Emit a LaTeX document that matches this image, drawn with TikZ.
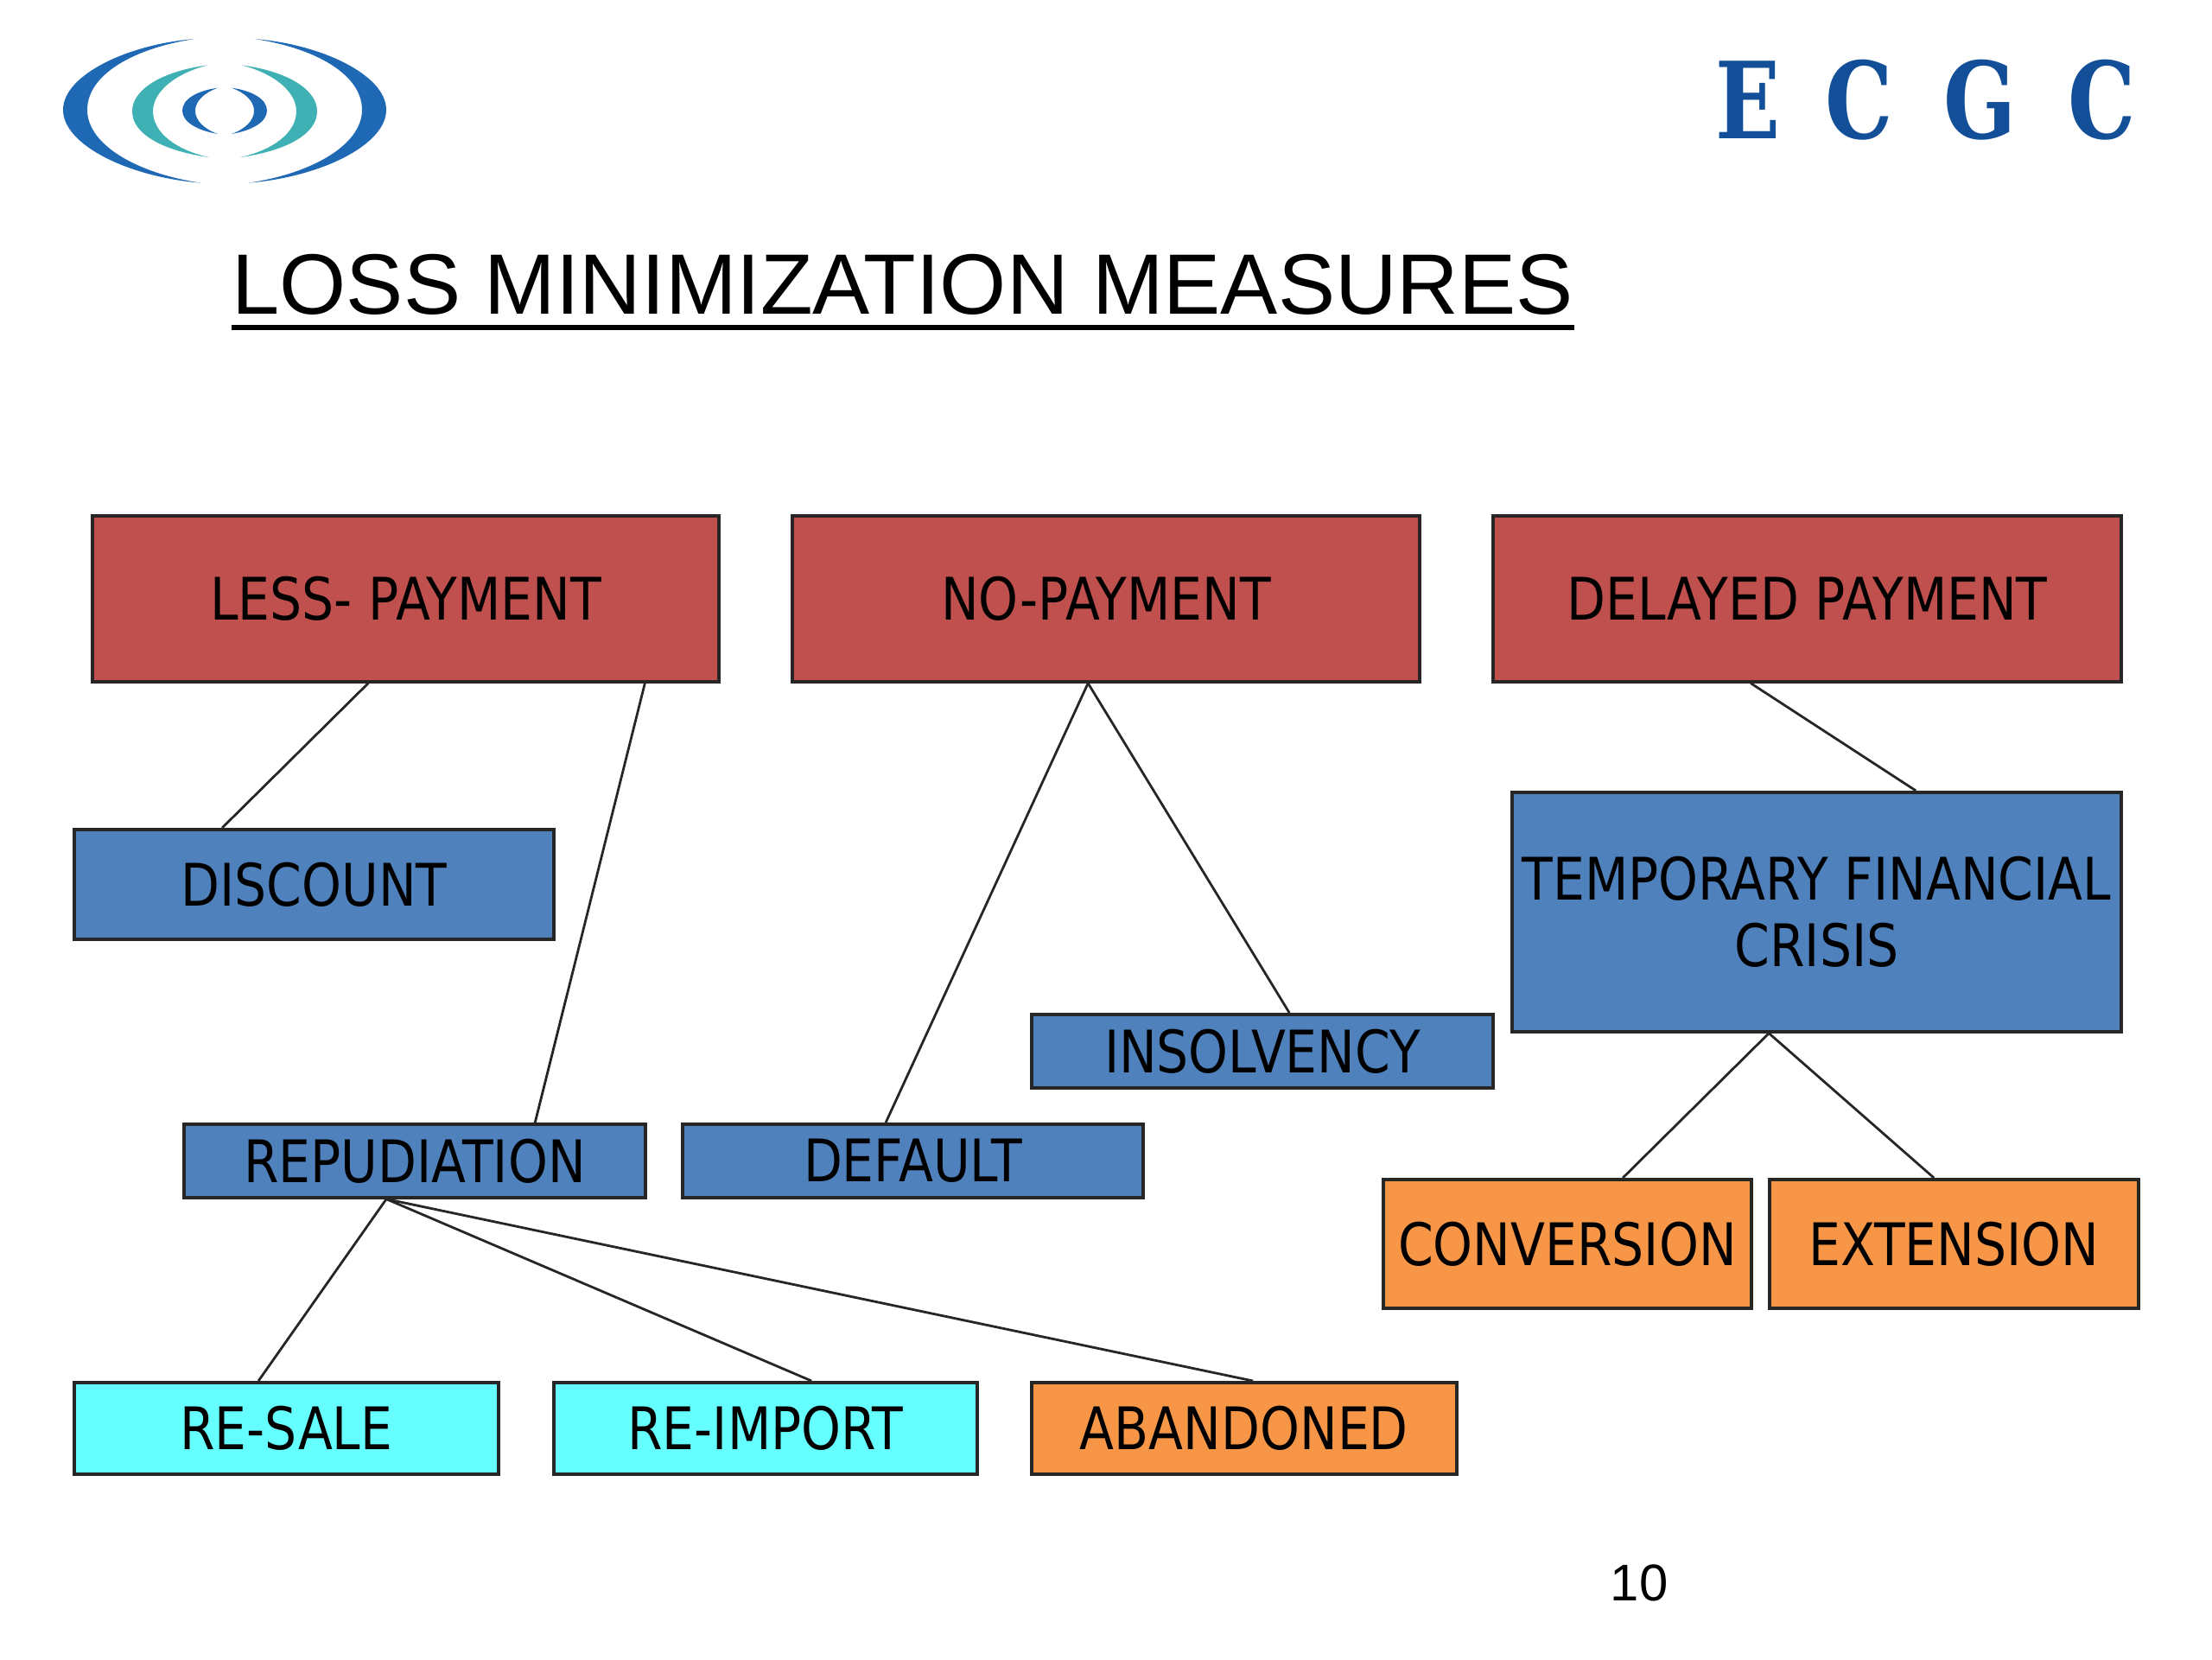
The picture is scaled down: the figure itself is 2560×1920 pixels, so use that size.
\documentclass[tikz,border=0pt]{standalone}
\usepackage{fontspec}
\setmainfont{Liberation Sans}
\newfontfamily\boxfont[FakeStretch=0.86]{DejaVu Sans}
\newfontfamily\logofont[FakeStretch=0.8]{DejaVu Serif}
\usepackage{tikz}
\definecolor{redbox}{HTML}{C0504D}
\definecolor{bluebox}{HTML}{4F81BD}
\definecolor{cyanbox}{HTML}{66FFFF}
\definecolor{orangebox}{HTML}{F79646}
\definecolor{logoblue}{HTML}{1F68B4}
\definecolor{logoteal}{HTML}{3FB0B4}
\definecolor{ecgcblue}{HTML}{124F98}
\tikzset{
  boxbase/.style={draw=black!85, line width=1pt, anchor=north west, inner sep=0pt, align=center,
    text=black, font=\boxfont\fontsize{19.3}{22}\selectfont},
  rednode/.style={boxbase, fill=redbox},
  bluenode/.style={boxbase, fill=bluebox},
  cyannode/.style={boxbase, fill=cyanbox},
  orangenode/.style={boxbase, fill=orangebox},
  link/.style={line width=0.8pt, black!85},
  letter/.style={text=ecgcblue, inner sep=0pt, font=\logofont\bfseries\fontsize{35}{35}\selectfont}
}
\begin{document}
\begin{tikzpicture}[x=0.01cm, y=-0.01cm]
  \useasboundingbox (0,0) rectangle (2560,1920);
  % logo
  \begin{scope}[yscale=0.82]
    \fill[logoblue] (225,55) .. controls (150,62) and (73,105) .. (73,155) .. controls (73,205) and (150,250) .. (232,258) .. controls (160,245) and (101,205) .. (101,155) .. controls (101,105) and (155,68) .. (225,55) -- cycle;
    \fill[logoblue] (295,55) .. controls (370,62) and (447,105) .. (447,155) .. controls (447,205) and (370,250) .. (288,258) .. controls (360,245) and (419,205) .. (419,155) .. controls (419,105) and (365,68) .. (295,55) -- cycle;
    \fill[logoteal] (240,92) .. controls (190,100) and (153,125) .. (153,157) .. controls (153,190) and (190,213) .. (242,222) .. controls (205,212) and (177,188) .. (177,157) .. controls (177,128) and (205,103) .. (240,92) -- cycle;
    \fill[logoteal] (280,92) .. controls (330,100) and (367,125) .. (367,157) .. controls (367,190) and (330,213) .. (278,222) .. controls (315,212) and (343,188) .. (343,157) .. controls (343,128) and (315,103) .. (280,92) -- cycle;
    \fill[logoblue] (252,124) .. controls (228,128) and (211,140) .. (211,156) .. controls (211,172) and (228,184) .. (252,189) .. controls (236,182) and (226,170) .. (226,156) .. controls (226,143) and (236,131) .. (252,124) -- cycle;
    \fill[logoblue] (268,124) .. controls (292,128) and (309,140) .. (309,156) .. controls (309,172) and (292,184) .. (268,189) .. controls (284,182) and (294,170) .. (294,156) .. controls (294,143) and (284,131) .. (268,124) -- cycle;
  \end{scope}
  % company letters
  \node[letter] (letterE) at (2023,116) {E};
  \node[letter] (letterC) at (2152,116) {C};
  \node[letter] (letterG) at (2292,116) {G};
  \node[letter] (letterD) at (2433,116) {C};
  % title
  \node[inner sep=0pt, anchor=west, font=\fontsize{28.2}{32}\selectfont] (title) at (268,329) {LOSS MINIMIZATION MEASURES};
  \coordinate (ula) at (268,379);
  \coordinate (ulb) at (1822,379);
  \draw[line width=1.7pt] (ula) -- (ulb);
  % top row
  \node[rednode, minimum width=7.25cm, minimum height=1.92cm] (less) at (105,595) {LESS- PAYMENT};
  \node[rednode, minimum width=7.26cm, minimum height=1.92cm] (nopay) at (915,595) {NO-PAYMENT};
  \node[rednode, minimum width=7.27cm, minimum height=1.92cm] (delayed) at (1726,595) {DELAYED PAYMENT};
  % second level
  \node[bluenode, minimum width=5.55cm, minimum height=1.27cm] (discount) at (84,958) {DISCOUNT};
  \node[bluenode, minimum width=7.05cm, minimum height=2.77cm] (crisis) at (1748,915) {TEMPORARY FINANCIAL\\CRISIS};
  \node[bluenode, minimum width=5.34cm, minimum height=0.85cm] (insolv) at (1192,1172) {INSOLVENCY};
  \node[bluenode, minimum width=5.34cm, minimum height=0.85cm] (repud) at (211,1299) {REPUDIATION};
  \node[bluenode, minimum width=5.33cm, minimum height=0.85cm] (default) at (788,1299) {DEFAULT};
  % third level
  \node[orangenode, minimum width=4.26cm, minimum height=1.49cm] (convert) at (1599,1363) {CONVERSION};
  \node[orangenode, minimum width=4.27cm, minimum height=1.49cm] (extend) at (2046,1363) {EXTENSION};
  \node[cyannode, minimum width=4.91cm, minimum height=1.06cm] (resale) at (84,1598) {RE-SALE};
  \node[cyannode, minimum width=4.90cm, minimum height=1.06cm] (reimport) at (639,1598) {RE-IMPORT};
  \node[orangenode, minimum width=4.92cm, minimum height=1.06cm] (abandon) at (1192,1598) {ABANDONED};
  % page number
  \node[inner sep=0pt, font=\fontsize{17}{20}\selectfont] (pageno) at (1897,1832) {10};
  % connectors
  \draw[link] ([xshift=3.21cm]less.south west) -- ([xshift=1.73cm]discount.north west);
  \draw[link] ([xshift=6.41cm]less.south west) -- ([xshift=4.08cm]repud.north west);
  \draw[link] ([xshift=3.44cm]nopay.south west) -- ([xshift=2.37cm]default.north west);
  \draw[link] ([xshift=3.44cm]nopay.south west) -- ([xshift=3.00cm]insolv.north west);
  \draw[link] ([xshift=3.00cm]delayed.south west) -- ([xshift=4.69cm]crisis.north west);
  \draw[link] ([xshift=2.99cm]crisis.south west) -- ([xshift=2.79cm]convert.north west);
  \draw[link] ([xshift=2.99cm]crisis.south west) -- ([xshift=1.92cm]extend.north west);
  \draw[link] ([xshift=2.36cm]repud.south west) -- ([xshift=2.15cm]resale.north west);
  \draw[link] ([xshift=2.36cm]repud.south west) -- ([xshift=3.00cm]reimport.north west);
  \draw[link] ([xshift=2.36cm]repud.south west) -- ([xshift=2.58cm]abandon.north west);
\end{tikzpicture}
\end{document}
